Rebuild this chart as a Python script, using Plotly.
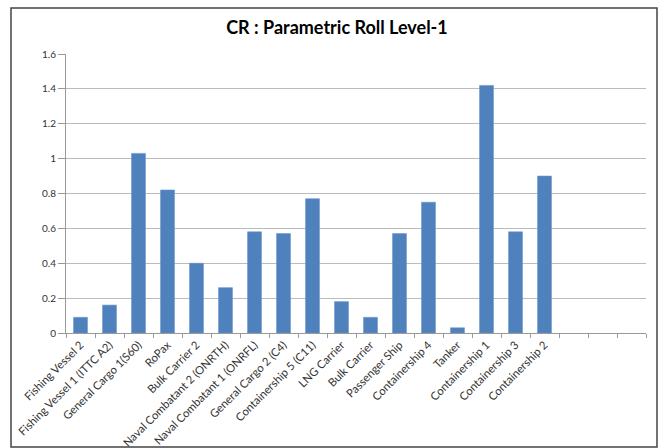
import plotly.graph_objects as go

categories = ["Fishing Vessel 2", "Fishing Vessel 1 (ITTC A2)", "General Cargo 1(S60)", "RoPax",
              "Bulk Carrier 2", "Naval Combatant 2 (ONRTH)", "Naval Combatant 1 (ONRFL)",
              "General Cargo 2 (C4)", "Containership 5 (C11)", "LNG Carrier", "Bulk Carrier",
              "Passenger Ship", "Containership 4", "Tanker", "Containership 1", "Containership 3",
              "Containership 2", " ", "  ", "   "]
values = [0.09, 0.16, 1.03, 0.82, 0.40, 0.26, 0.58, 0.57, 0.77, 0.18, 0.09,
          0.57, 0.75, 0.03, 1.42, 0.58, 0.90, None, None, None]
y_ticks = [0, 0.2, 0.4, 0.6, 0.8, 1, 1.2, 1.4, 1.6]

W, H = 662, 448
L, R, T, B = 66, 16, 54, 115
pw, ph = W - L - R, H - T - B

def px_x(x):
    return (x - L) / pw

def px_y(y):
    return (H - B - y) / ph

fig = go.Figure(go.Bar(
    x=categories, y=values,
    marker=dict(color="#4F81BD", line=dict(color="#6A96CC", width=0.6)),
))

fig.update_layout(
    width=W, height=H,
    margin=dict(l=L, r=R, t=T, b=B, autoexpand=False),
    paper_bgcolor="white", plot_bgcolor="white",
    font=dict(family="Lato, Open Sans, sans-serif", size=11, color="#333"),
    bargap=0.52,
    showlegend=False,
    title=dict(text="<b>CR : Parametric Roll Level-1</b>", x=337 / W, xref="container",
               xanchor="center", y=1 - 28 / H, yref="container", yanchor="middle",
               font=dict(size=18, color="#000")),
    shapes=[dict(type="rect", xref="paper", yref="paper",
                 x0=px_x(11), x1=px_x(657), y0=px_y(447), y1=px_y(8),
                 line=dict(color="#444", width=1.5), fillcolor="rgba(0,0,0,0)", layer="below")],
)

fig.update_xaxes(
    type="category", categoryorder="array", categoryarray=categories,
    tickangle=-45, tickson="boundaries", ticks="outside", ticklen=4,
    tickcolor="#999", showline=True, linecolor="#999", linewidth=1,
    showgrid=False, tickfont=dict(size=11.3, color="#333"),
    range=[-0.5, len(categories) - 0.5], automargin=False,
)
fig.update_yaxes(
    range=[0, 1.6], tickvals=y_ticks, ticktext=[f"{v:g}" for v in y_ticks],
    ticks="outside", ticklen=7, tickcolor="#999",
    showline=True, linecolor="#999", linewidth=1,
    showgrid=True, gridcolor="#BBBBBB", gridwidth=1, zeroline=False,
    tickfont=dict(size=10, color="#333"), automargin=False,
)

fig.write_html("out.html", config={"displayModeBar": False},
               post_script="document.body.style.margin='0';")
